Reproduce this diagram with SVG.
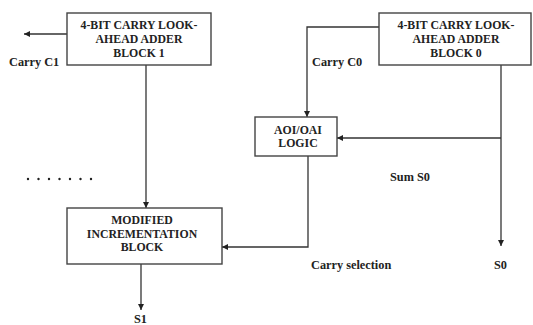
<svg xmlns="http://www.w3.org/2000/svg" width="533" height="325" viewBox="0 0 533 325">
<style>
.box{fill:#fff;stroke:#444;stroke-width:1.4}
.t{font-family:"Liberation Serif","Times New Roman",serif;font-weight:bold;font-size:11.8px;fill:#222;text-anchor:middle}
.l{font-family:"Liberation Serif","Times New Roman",serif;font-weight:bold;font-size:12.3px;fill:#222}
.w{fill:none;stroke:#333;stroke-width:1.3}
</style>
<defs>
<marker id="ah" viewBox="0 0 10 10" refX="10" refY="5" markerWidth="6" markerHeight="6" markerUnits="userSpaceOnUse" orient="auto">
<path d="M0,0 L10,5 L0,10 z" fill="#222"/>
</marker>
</defs>
<rect width="533" height="325" fill="#fff"/>
<g id="connectors">
<line class="w" x1="67" y1="34" x2="24" y2="34" marker-end="url(#ah)"/>
<line class="w" x1="146" y1="65" x2="146" y2="208" marker-end="url(#ah)"/>
<polyline class="w" points="379,27 307,27 307,117" marker-end="url(#ah)"/>
<line class="w" x1="501" y1="65" x2="501" y2="246" marker-end="url(#ah)"/>
<line class="w" x1="501" y1="138" x2="337" y2="138" marker-end="url(#ah)"/>
<polyline class="w" points="308,156 308,247 222,247" marker-end="url(#ah)"/>
<line class="w" x1="141" y1="264" x2="141" y2="310" marker-end="url(#ah)"/>
<line x1="28" y1="179" x2="92" y2="179" stroke="#222" stroke-width="2.4" stroke-linecap="round" stroke-dasharray="0 10.5"/>
</g>
<g id="block1">
<rect class="box" x="67" y="13" width="144" height="52"/>
<text class="t" x="139" y="29">4-BIT CARRY LOOK-</text>
<text class="t" x="139" y="43">AHEAD ADDER</text>
<text class="t" x="139" y="57">BLOCK 1</text>
</g>
<g id="block0">
<rect class="box" x="379" y="13" width="152" height="52"/>
<text class="t" x="456" y="29">4-BIT CARRY LOOK-</text>
<text class="t" x="456" y="43">AHEAD ADDER</text>
<text class="t" x="456" y="57">BLOCK 0</text>
</g>
<g id="aoi">
<rect class="box" x="255" y="117" width="82" height="39"/>
<text class="t" x="298" y="134">AOI/OAI</text>
<text class="t" x="298" y="147">LOGIC</text>
</g>
<g id="mib">
<rect class="box" x="67" y="208" width="155" height="56"/>
<text class="t" x="142" y="224">MODIFIED</text>
<text class="t" x="142" y="238">INCREMENTATION</text>
<text class="t" x="142" y="251">BLOCK</text>
</g>
<g id="labels">
<text class="l" x="9" y="66">Carry C1</text>
<text class="l" x="312" y="66">Carry C0</text>
<text class="l" x="390" y="181">Sum S0</text>
<text class="l" x="311" y="269">Carry selection</text>
<text class="l" x="494" y="269">S0</text>
<text class="l" x="134" y="323">S1</text>
</g>
</svg>
